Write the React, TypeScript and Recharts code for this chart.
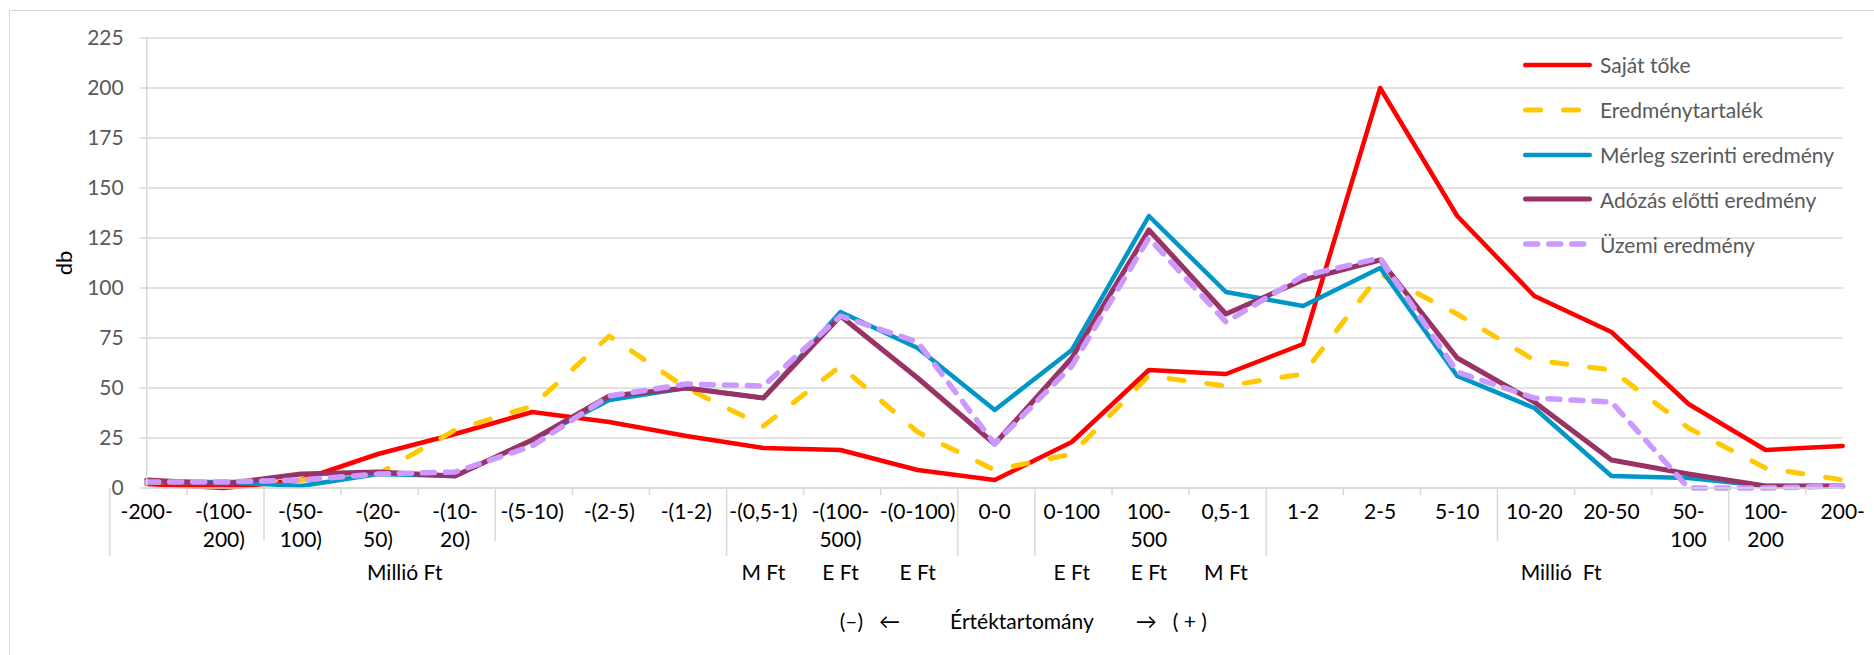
import React from "react";
import { LineChart, Line, XAxis, YAxis, CartesianGrid, Legend } from "recharts";

const CATEGORIES = [
  "-200-", "-(100-\n200)", "-(50-\n100)", "-(20-\n50)", "-(10-\n20)",
  "-(5-10)", "-(2-5)", "-(1-2)", "-(0,5-1)", "-(100-\n500)", "-(0-100)",
  "0-0", "0-100", "100-\n500", "0,5-1", "1-2", "2-5", "5-10", "10-20",
  "20-50", "50-\n100", "100-\n200", "200-",
];

const SAJAT_TOKE = [2, 0, 4, 17, 27, 38, 33, 26, 20, 19, 9, 4, 23, 59, 57, 72, 200, 136, 96, 78, 42, 19, 21];
const EREDMENYTARTALEK = [3, 3, 4, 7, 29, 41, 76, 50, 31, 61, 28, 9, 17, 56, 51, 57, 107, 87, 64, 59, 30, 10, 4];
const MERLEG = [3, 3, 1, 7, 6, 24, 44, 50, 45, 88, 70, 39, 69, 136, 98, 91, 110, 56, 40, 6, 5, 1, 1];
const ADOZAS = [4, 2, 7, 8, 6, 24, 46, 50, 45, 86, 55, 22, 65, 129, 87, 104, 114, 65, 43, 14, 7, 1, 1];
const UZEMI = [3, 3, 4, 7, 8, 21, 46, 52, 51, 86, 73, 22, 61, 125, 83, 106, 115, 58, 45, 43, 0, 0, 1];

const Y_TICKS = [0, 25, 50, 75, 100, 125, 150, 175, 200, 225];

const UNIT_GROUPS = [
  { label: "Millió Ft", from: 0, to: 7 },
  { label: "M Ft", from: 8, to: 8 },
  { label: "E Ft", from: 9, to: 9 },
  { label: "E Ft", from: 10, to: 10 },
  { label: "E Ft", from: 12, to: 12 },
  { label: "E Ft", from: 13, to: 13 },
  { label: "M Ft", from: 14, to: 14 },
  { label: "Millió  Ft", from: 15, to: 22 },
];
const MAJOR_BOUNDS = [0, 8, 11, 12, 15, 23];
const MID_BOUNDS = [2, 5, 18, 21];

const Y_LABEL = "db";
const TITLE_PARTS = ["(–)", "←", "Értéktartomány", "→", "( + )"];

const SERIES = [
  { key: "sajat", name: "Saját tőke", data: SAJAT_TOKE, color: "#ff0000", width: 4.5, dash: undefined as string | undefined },
  { key: "eredmeny", name: "Eredménytartalék", data: EREDMENYTARTALEK, color: "#ffc800", width: 5, dash: "15 23" },
  { key: "merleg", name: "Mérleg szerinti eredmény", data: MERLEG, color: "#0096c8", width: 4.5, dash: undefined },
  { key: "adozas", name: "Adózás előtti eredmény", data: ADOZAS, color: "#993366", width: 5, dash: undefined },
  { key: "uzemi", name: "Üzemi eredmény", data: UZEMI, color: "#cc99ff", width: 5.5, dash: "12 11" },
];

const rows = CATEGORIES.map((cat, i) => {
  const r: any = { cat };
  SERIES.forEach((s) => { r[s.key] = s.data[i]; });
  return r;
});

const FONT = "Lato, 'Open Sans', sans-serif";
const GRID = "#d9d9d9";

function CategoryTick(props: any) {
  const { x, y, payload } = props;
  const n = CATEGORIES.length;
  const idx = typeof props.index === "number" ? props.index : payload.index;
  const band = payload && payload.offset > 0 ? payload.offset * 2 : props.width / n;
  const lines = String(payload.value).split("\n");
  const sepLen = (b: number) => (MAJOR_BOUNDS.includes(b) ? 68 : MID_BOUNDS.includes(b) ? 53 : 7);
  const group = UNIT_GROUPS.find((g) => g.from === idx);
  return (
    <g>
      <line x1={x - band / 2} x2={x - band / 2} y1={y} y2={y + sepLen(idx)} stroke={GRID} strokeWidth={1.5} />
      {idx === n - 1 && (
        <line x1={x + band / 2} x2={x + band / 2} y1={y} y2={y + sepLen(n)} stroke={GRID} strokeWidth={1.5} />
      )}
      <text x={x} y={y + 24} textAnchor="middle" fontSize={21} fontFamily={FONT} fill="#000">
        {lines.map((l, i) => (
          <tspan key={i} x={x} dy={i === 0 ? "0.35em" : 28}>{l}</tspan>
        ))}
      </text>
      {group && (
        <text
          x={x + ((group.to - group.from) * band) / 2}
          y={y + 85}
          dy="0.35em"
          textAnchor="middle"
          fontSize={21}
          fontFamily={FONT}
          fill="#000"
          style={{ whiteSpace: "pre" }}
        >
          {group.label}
        </text>
      )}
    </g>
  );
}

function AxisTitle(props: any) {
  const vb = props.viewBox || { x: 146.7, width: 1696, y: 488 };
  const start = vb.x + 693;
  const gaps = [0, 16, 50, 42, 16];
  return (
    <text x={start} y={622} dy="0.35em" fontSize={21} fontFamily={FONT} fill="#000" textAnchor="start">
      {TITLE_PARTS.map((p, i) => (
        <tspan key={i} dx={gaps[i]}>{p}</tspan>
      ))}
    </text>
  );
}

function YTitle(props: any) {
  const vb = props.viewBox || { y: 38, height: 450 };
  const cy = vb.y + vb.height / 2;
  return (
    <text x={64} y={cy} transform={`rotate(-90, 64, ${cy})`} dy="0.35em" textAnchor="middle" fontSize={22} fontFamily={FONT} fill="#000">
      {Y_LABEL}
    </text>
  );
}

function LegendContent() {
  return (
    <div style={{ fontFamily: FONT, fontSize: 21, color: "#595959" }}>
      {SERIES.map((s) => (
        <div key={s.key} style={{ display: "flex", alignItems: "center", height: 44.8 }}>
          <svg width={77} height={12} style={{ display: "block", flex: "none" }}>
            <line
              x1={s.width / 2}
              x2={69 - s.width / 2}
              y1={6}
              y2={6}
              stroke={s.color}
              strokeWidth={s.width}
              strokeLinecap="round"
              strokeDasharray={s.dash}
            />
          </svg>
          <span style={{ whiteSpace: "nowrap" }}>{s.name}</span>
        </div>
      ))}
    </div>
  );
}

export default function App() {
  return (
    <div style={{ position: "fixed", left: 0, top: 0, width: 1874, height: 655, overflow: "hidden", background: "#fff" }}>
      <div
        style={{
          position: "absolute",
          left: 9,
          top: 10,
          width: 1900,
          height: 700,
          borderLeft: `1px solid ${GRID}`,
          borderTop: `1px solid ${GRID}`,
        }}
      />
      <div style={{ position: "absolute", left: 0, top: 0 }}>
        <LineChart width={1874} height={655} data={rows} margin={{ top: 38, right: 31.3, bottom: 0, left: 0 }}>
          <CartesianGrid vertical={false} stroke={GRID} strokeWidth={1.5} />
          <XAxis
            dataKey="cat"
            interval={0}
            tickLine={false}
            tickSize={0}
            tickMargin={0}
            height={167}
            axisLine={{ stroke: GRID, strokeWidth: 1.5 }}
            tick={<CategoryTick />}
            label={{ content: (p: any) => <AxisTitle {...p} /> }}
          />
          <YAxis
            domain={[0, 225]}
            ticks={Y_TICKS}
            interval={0}
            width={146.7}
            tickSize={7}
            tickMargin={16}
            axisLine={{ stroke: GRID, strokeWidth: 1.5 }}
            tickLine={{ stroke: GRID, strokeWidth: 1.5 }}
            tick={{ fill: "#595959", fontSize: 21, fontFamily: FONT }}
            label={{ content: (p: any) => <YTitle {...p} /> }}
          />
          <Legend
            layout="vertical"
            align="center"
            verticalAlign="middle"
            wrapperStyle={{ left: 1523, top: 42.6, width: 350 }}
            content={() => <LegendContent />}
          />
          {SERIES.map((s) => (
            <Line
              key={s.key}
              type="linear"
              dataKey={s.key}
              name={s.name}
              stroke={s.color}
              strokeWidth={s.width}
              strokeDasharray={s.dash}
              strokeLinecap="round"
              strokeLinejoin="round"
              dot={false}
              activeDot={false}
              isAnimationActive={false}
            />
          ))}
        </LineChart>
      </div>
    </div>
  );
}
